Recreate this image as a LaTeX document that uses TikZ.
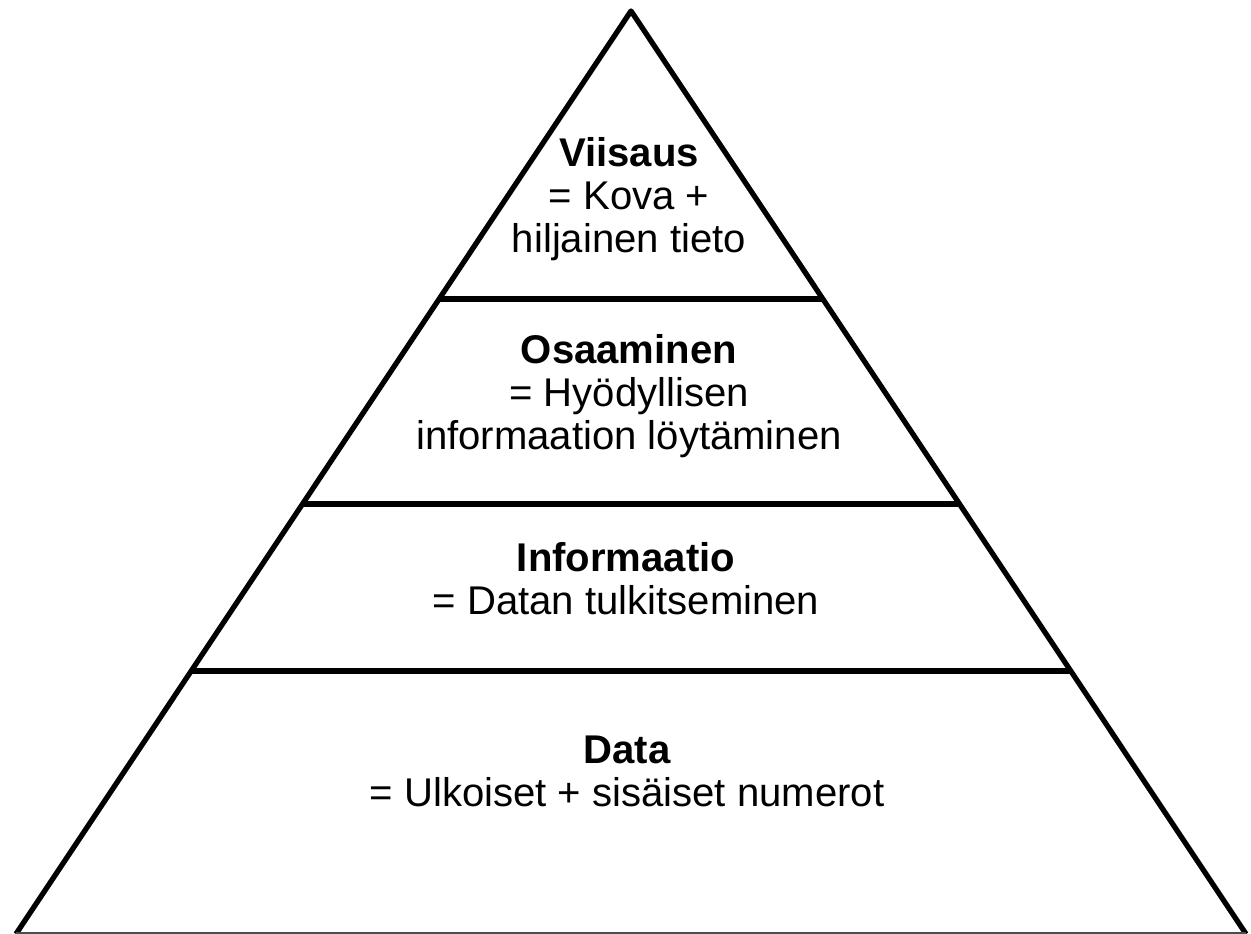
\documentclass[tikz,border=0pt]{standalone}
\usepackage{fontspec}
\setmainfont{Liberation Sans}
\usetikzlibrary{positioning}

\tikzset{
	edge/.style={line width=1.5pt, line join=round},
	level/.style={align=center, anchor=base, font=\fontsize{11.4}{12.3}\selectfont},
}

\begin{document}
\begin{tikzpicture}[x=0.01cm, y=-0.01cm]
		\useasboundingbox (0,0) rectangle (1251,934);

		\coordinate (top) at (631,11);
		\coordinate (bl) at (16,934);
		\coordinate (br) at (1246,934);

		% sides of the pyramid
		\draw[edge] (bl) -- (top) -- (br);
		\draw[black!70, line width=0.3pt] (bl) ++(0,-1) -- +(1230,0);

		% dividers between the layers
		\path (top) -- (bl) coordinate[pos=0.312] (l1) coordinate[pos=0.534] (l2) coordinate[pos=0.715] (l3);
		\path (top) -- (br) coordinate[pos=0.312] (r1) coordinate[pos=0.534] (r2) coordinate[pos=0.715] (r3);
		\draw[edge] (l1) -- (r1);
		\draw[edge] (l2) -- (r2);
		\draw[edge] (l3) -- (r3);

		% base anchor sits on the last line
		\node[level] (viisaus) at (629,253) {\textbf{Viisaus}\\= Kova +\\hiljainen tieto};
		\node[level] (osaaminen) at (629,450) {\textbf{Osaaminen}\\= Hyödyllisen\\informaation löytäminen};
		\node[level] (informaatio) at (626,615) {\textbf{Informaatio}\\= Datan tulkitseminen};
		\node[level] (data) at (627,807) {\textbf{Data}\\= Ulkoiset + sisäiset numerot};
	\end{tikzpicture}
\end{document}
